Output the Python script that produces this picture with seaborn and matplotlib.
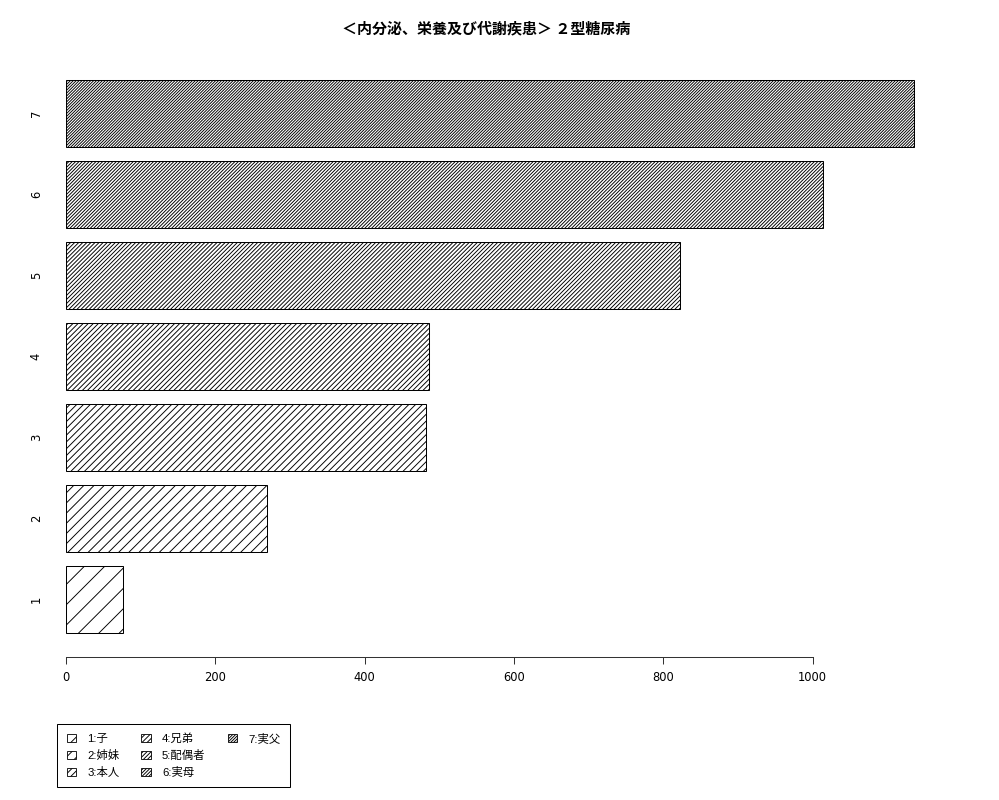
import matplotlib
matplotlib.use('Agg')
import matplotlib.pyplot as plt
from matplotlib.patches import Patch
import seaborn as sns
import pandas as pd

# values (R-style horizontal barplot)
groups = [1, 2, 3, 4, 5, 6, 7]
counts = [77, 270, 482, 486, 822, 1014, 1135]
legend_labels = ['1:子', '2:姉妹', '3:本人', '4:兄弟', '5:配偶者', '6:実母', '7:実父']
x_ticks = [0, 200, 400, 600, 800, 1000]
title = '＜内分泌、栄養及び代謝疾患＞ ２型糖尿病'

DPI = 122
sns.set_style('white')
plt.rcParams['font.family'] = ['DejaVu Sans', 'Noto Sans CJK JP']
plt.rcParams['hatch.linewidth'] = 0.55
for key in ['text.color', 'axes.labelcolor', 'xtick.color', 'ytick.color']:
    plt.rcParams[key] = 'black'

df = pd.DataFrame({'group': groups, 'count': counts})

fig = plt.figure(figsize=(1000 / DPI, 800 / DPI), dpi=DPI)
ax = fig.add_axes([0.0657, 0.179, 0.8815, 0.7461])

sns.barplot(data=df, x='count', y='group', orient='h', native_scale=True,
            width=0.835, color='white', edgecolor='black', linewidth=0.6,
            saturation=1, ax=ax)

# density of the diagonal shading grows with the group number
for p in ax.patches:
    k = int(round(p.get_y() + p.get_height() / 2))
    p.set_facecolor('white')
    p.set_hatch('/' * (2 * k))

ax.set_xlim(0, 1180)
ax.set_ylim(0.294, 7.66)
ax.set_xlabel('')
ax.set_ylabel('')

for s in ['top', 'right', 'left']:
    ax.spines[s].set_visible(False)
ax.spines['bottom'].set_bounds(0, 1000)
ax.spines['bottom'].set_color('#333333')
ax.spines['bottom'].set_linewidth(0.6)

ax.set_xticks(x_ticks)
ax.set_xticklabels([str(t) for t in x_ticks])
ax.tick_params(axis='x', direction='out', length=4.1, width=0.6, color='#333333',
               pad=4.2, labelsize=6.8, bottom=True)
ax.set_yticks(groups)
ax.set_yticklabels([str(g) for g in groups], rotation=90, va='center')
ax.tick_params(axis='y', length=0, pad=13.5, labelsize=6.8, left=True)

fig.text(0.4865, 0.964, title, ha='center', va='center', fontsize=8.85,
         fontweight='bold', family=['Noto Sans CJK JP', 'DejaVu Sans'])

handles = [Patch(facecolor='white', edgecolor='black', linewidth=0.5, hatch='/' * (2 * g))
           for g in groups]
labels = list(legend_labels)
# blank entry so the columns fill 3 / 3 / 1 like the original
handles.append(Patch(visible=False))
labels.append('')
leg = fig.legend(handles, labels, ncol=3, loc='upper left',
                 bbox_to_anchor=(0.057, 0.0955), borderaxespad=0,
                 fontsize=6.7, frameon=True, fancybox=False, edgecolor='black',
                 framealpha=1, handlelength=0.8, handleheight=0.72,
                 handletextpad=1.0, columnspacing=1.95, labelspacing=0.5,
                 borderpad=0.85)
leg.get_frame().set_linewidth(0.6)
for t in leg.get_texts():
    t.set_family(['Liberation Sans', 'Noto Sans CJK JP'])

fig.savefig('out.png', dpi=DPI, facecolor='white')
